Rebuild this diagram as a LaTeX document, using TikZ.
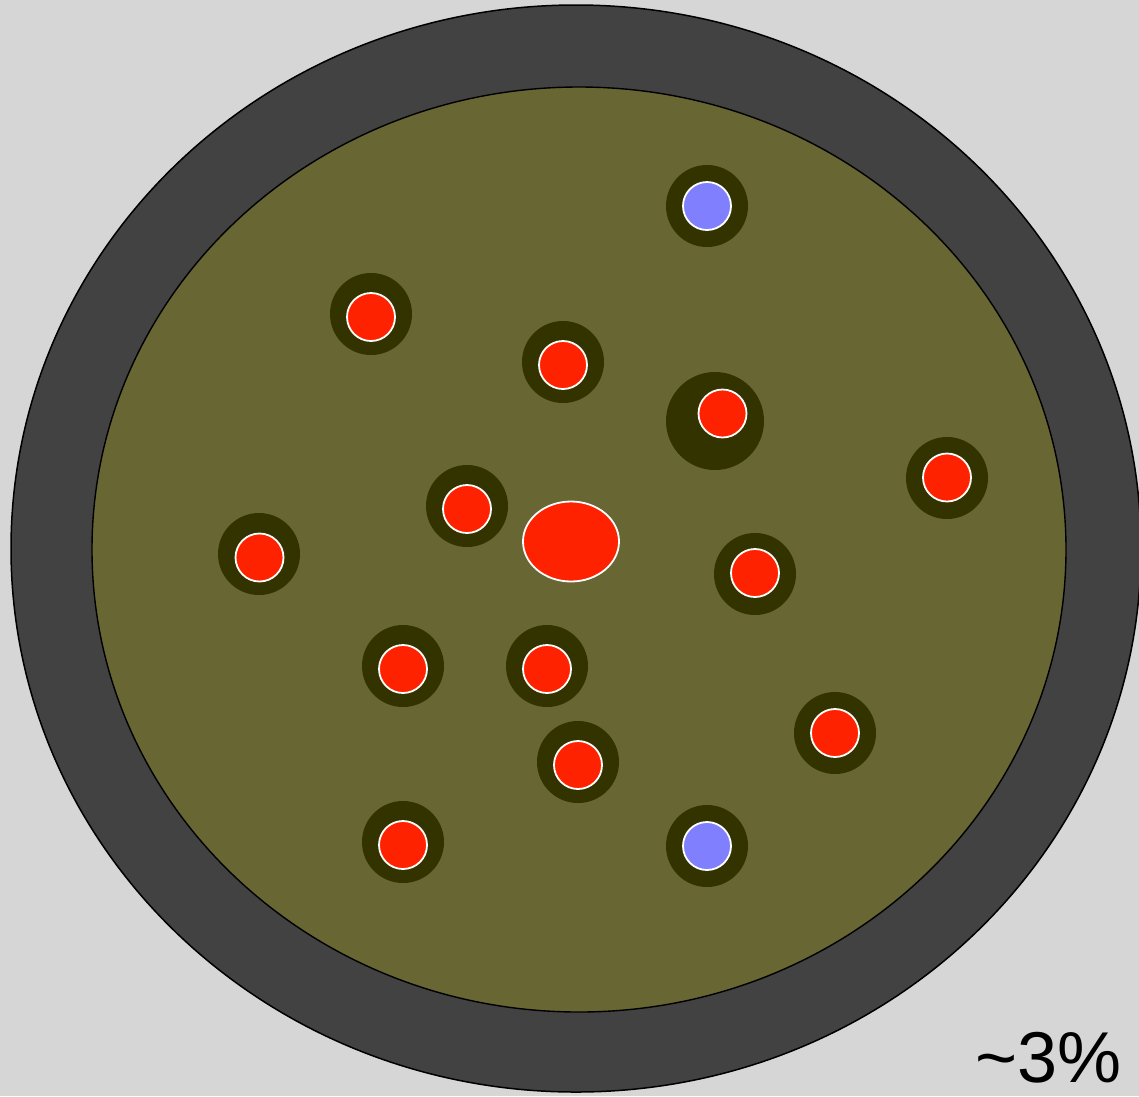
\documentclass[tikz,border=0pt]{standalone}
\usepackage{fontspec}
\setmainfont{Liberation Sans}
\usetikzlibrary{shapes.geometric, positioning}
\definecolor{bgc}{HTML}{D6D6D6}
\definecolor{wallc}{HTML}{424242}
\definecolor{cellc}{HTML}{686633}
\definecolor{haloc}{HTML}{333300}
\definecolor{ionred}{HTML}{FF2200}
\definecolor{ionblue}{HTML}{8080FF}

\begin{document}
\begin{tikzpicture}[
      x=1pt, y=-1pt,
      halo/.style={circle, fill=haloc, inner sep=0pt, minimum size=82pt},
      bighalo/.style={halo, minimum size=98pt},
      ion/.style={circle, draw=white, line width=1.8pt, inner sep=0pt, minimum size=48pt},
      red_ion/.style={ion, fill=ionred},
      blue_ion/.style={ion, fill=ionblue},
      core/.style={ellipse, draw=white, line width=1.8pt, fill=ionred, inner sep=0pt, minimum width=96pt, minimum height=80pt}
  ]

  \useasboundingbox (0,0) rectangle (1139,1096);
  \fill[bgc] (0,0) rectangle (1139,1096);
  \clip (0,0) rectangle (1139,1096);

  % wall and cell
  \node[ellipse, draw=black, line width=1.5pt, fill=wallc, inner sep=0pt, minimum width=1130pt, minimum height=1087pt] (wall) at (576,548.5) {};
  \node[ellipse, draw=black, line width=1.4pt, fill=cellc, inner sep=0pt, minimum width=974pt, minimum height=925pt] (cell) at (579,549.5) {};

  % halos
  \node[halo] (h1) at (707,206) {};
  \node[halo] (h2) at (371,314) {};
  \node[halo] (h3) at (563,362) {};
  \node[bighalo] (h4) at (715,421) {};
  \node[halo] (h5) at (947,478) {};
  \node[halo] (h6) at (467,506) {};
  \node[halo] (h8) at (259,554) {};
  \node[halo] (h9) at (755,574) {};
  \node[halo] (h10) at (403,666) {};
  \node[halo] (h11) at (547,666) {};
  \node[halo] (h12) at (835,733) {};
  \node[halo] (h13) at (578,762) {};
  \node[halo] (h14) at (403,842) {};
  \node[halo] (h15) at (707,846) {};

  % ions
  \node[blue_ion] (i1) at (707,206) {};
  \node[red_ion] (i2) at (371,317) {};
  \node[red_ion] (i3) at (563,365) {};
  \node[red_ion] (i4) at (722.5,413.5) {};
  \node[red_ion] (i5) at (947,477.5) {};
  \node[red_ion] (i6) at (467,509) {};
  \node[core] (i7) at (571,541.5) {};
  \node[red_ion] (i8) at (259.5,557.5) {};
  \node[red_ion] (i9) at (755,573) {};
  \node[red_ion] (i10) at (403,669) {};
  \node[red_ion] (i11) at (547,669) {};
  \node[red_ion] (i12) at (835,733) {};
  \node[red_ion] (i13) at (578,765) {};
  \node[red_ion] (i14) at (403,845) {};
  \node[blue_ion] (i15) at (707,846) {};

  % label
  \node[anchor=base east, inner sep=0pt, font=\fontsize{72}{80}\selectfont] (pct) at (1122,1082) {\textasciitilde 3\%};

\end{tikzpicture}
\end{document}
